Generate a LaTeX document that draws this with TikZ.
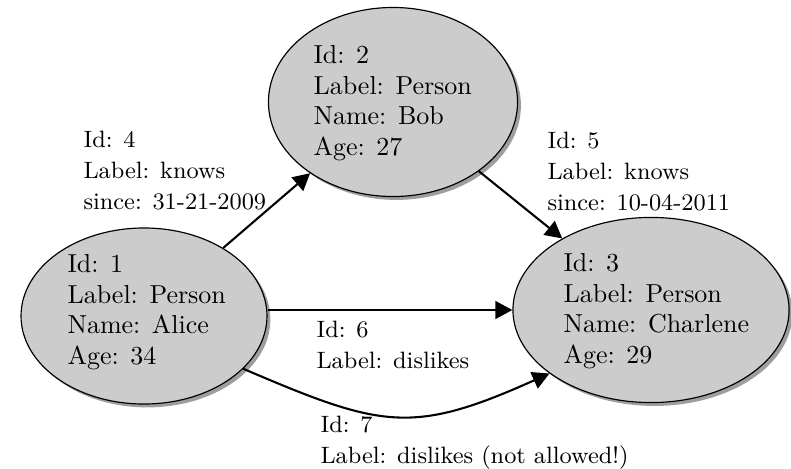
\documentclass[tikz,border=0pt]{standalone}
\usetikzlibrary{shapes.geometric,shadows,arrows.meta}
\begin{document}
\begin{tikzpicture}[x=0.3846pt,y=-0.3846pt,
  person/.style={ellipse,draw=black,line width=0.45pt,fill=black!20,inner sep=0pt,
    drop shadow={shadow xshift=1.3pt,shadow yshift=-1.3pt,fill=black!38,opacity=1}},
  txt/.style={anchor=north west,inner sep=0pt,align=left,font=\fontsize{10}{11.75}\selectfont},
  etxt/.style={anchor=north west,inner sep=0pt,align=left,font=\fontsize{9.1}{11.9}\selectfont},
  conn/.style={line width=0.8pt,-{Triangle[length=6.5pt,width=6.8pt]}}]
\useasboundingbox (0,0) rectangle (791,468);
\node[person,minimum width=94.6pt,minimum height=67.7pt] (alice) at (144,316) {};
\node[person,minimum width=95.8pt,minimum height=72.7pt] (bob) at (393,102) {};
\node[person,minimum width=106.2pt,minimum height=71.2pt] (charlene) at (651,310) {};
\node[txt] (talice) at (67,254) {Id: 1\\Label: Person\\Name: Alice\\Age: 34};
\node[txt] (tbob) at (313,45) {Id: 2\\Label: Person\\Name: Bob\\Age: 27};
\node[txt] (tcharlene) at (563,253) {Id: 3\\Label: Person\\Name: Charlene\\Age: 29};
\draw[conn] (alice) -- (bob);
\draw[conn] (bob) -- (charlene);
\draw[conn] (alice.east |- charlene) -- (charlene);
\draw[conn] (alice.-28) .. controls +(138,59) and +(-138,62) .. (charlene.212);
\node[etxt] (e4) at (83,131) {Id: 4\\Label: knows\\since: 31-21-2009};
\node[etxt] (e5) at (547,132) {Id: 5\\Label: knows\\since: 10-04-2011};
\node[etxt] (e6) at (316,321) {Id: 6\\Label: dislikes};
\node[etxt] (e7) at (320,416) {Id: 7\\Label: dislikes (not allowed!)};
\end{tikzpicture}
\end{document}
